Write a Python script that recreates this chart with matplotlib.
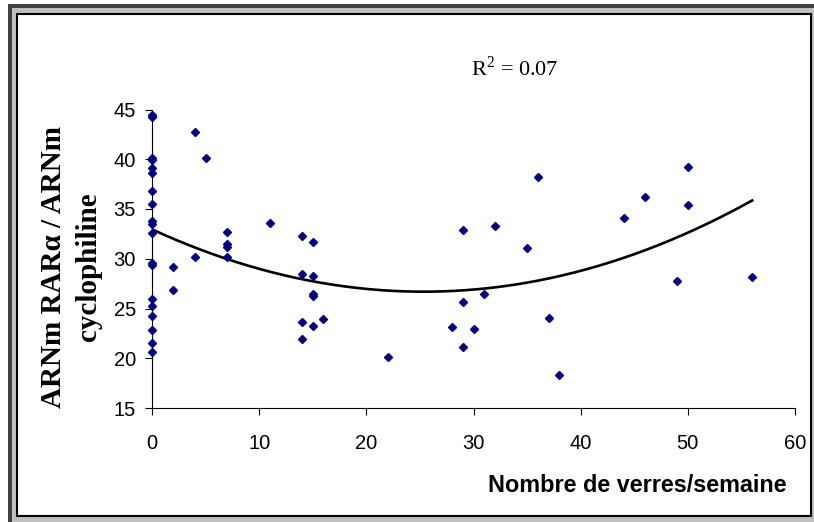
import numpy as np
import matplotlib
matplotlib.use("Agg")
import matplotlib.pyplot as plt
from matplotlib.patches import Rectangle
from matplotlib.transforms import Affine2D

# Consumption (glasses per week) and RARalpha / cyclophilin mRNA ratio
verres = [0] * 19 + [2, 2, 4, 4, 5, 7, 7, 7, 7, 11,
                     14, 14, 14, 14, 15, 15, 15, 15, 15, 16, 22, 28,
                     29, 29, 29, 30, 31, 32, 35, 36, 37, 38, 44, 46, 49,
                     50, 50, 56]
ratio = [44.45, 44.2, 40.1, 39.9, 39.15, 38.6, 36.84, 35.5, 33.8, 33.5,
         32.56, 29.55, 29.4, 26.0, 25.3, 24.2, 22.86, 21.5, 20.66,
         29.2, 26.9, 42.7, 30.15, 40.15, 32.7, 31.45, 31.2, 30.15, 33.6,
         32.3, 28.5, 23.6, 21.9, 31.7, 28.27, 26.5, 26.3, 23.27, 23.94,
         20.1, 23.17, 32.9, 25.62, 21.1, 22.9, 26.43, 33.26, 31.1, 38.25,
         24.0, 18.3, 34.05, 36.24, 27.8, 39.25, 35.43, 28.13]

x_ticks = [0, 10, 20, 30, 40, 50, 60]
y_ticks = [15, 20, 25, 30, 35, 40, 45]
r2_label = "R$^{\\mathrm{2}}$ = 0.07"

plt.rcParams["mathtext.fontset"] = "custom"
plt.rcParams["mathtext.rm"] = "Liberation Serif"

W, H = 814, 522
fig = plt.figure(figsize=(W / 100, H / 100), dpi=100, facecolor="white")

# pixel coordinates (origin top-left) for the chart frame
px = Affine2D().scale(1 / W, -1 / H).translate(0, 1) + fig.transFigure
fig.patches.append(Rectangle((8, 4), W, H, transform=px, facecolor="#404040",
                             edgecolor="none", zorder=-3))
fig.patches.append(Rectangle((12, 8), W, H, transform=px, facecolor="#c0c0c0",
                             edgecolor="none", zorder=-2))
fig.patches.append(Rectangle((17, 14), 794, 502, transform=px, facecolor="white",
                             edgecolor="black", linewidth=1.5, zorder=-1))

left, right, top, bottom = 152, 795, 109.5, 408
ax = fig.add_axes([left / W, 1 - bottom / H, (right - left) / W, (bottom - top) / H])
ax.set_zorder(2)
ax.set_facecolor("none")

x = np.array(verres, dtype=float)
y = np.array(ratio, dtype=float)
ax.plot(x, y, linestyle="none", marker="D", markersize=4.0,
        color="#000080", zorder=3, clip_on=False)

coef = np.polyfit(x, y, 2)
xs = np.linspace(0, x.max(), 200)
ax.plot(xs, np.polyval(coef, xs), color="black", linewidth=1.9, zorder=2)

ax.set_xlim(0, 60)
ax.set_ylim(15, 45)
ax.set_xticks(x_ticks)
ax.set_yticks(y_ticks)
for s in ("top", "right"):
    ax.spines[s].set_visible(False)
for s in ("left", "bottom"):
    ax.spines[s].set_linewidth(0.8)
ax.tick_params(axis="both", direction="out", length=5, width=0.8,
               labelsize=14.5, colors="black")
ax.tick_params(axis="x", pad=14)
ax.tick_params(axis="y", pad=6.5)
for lab in ax.get_xticklabels() + ax.get_yticklabels():
    lab.set_family("Liberation Sans")

fig.text(71 / W, 1 - 267 / H, "ARNm RAR\u03b1 / ARNm\ncyclophiline",
         rotation=90, ha="center", va="center", multialignment="center",
         family="Liberation Serif", fontweight="bold", fontsize=21,
         linespacing=1.35)
fig.text(637.5 / W, 1 - 485 / H, "Nombre de verres/semaine",
         ha="center", va="center", family="Liberation Sans",
         fontweight="bold", fontsize=16.8)
fig.text(515 / W, 1 - 68 / H, r2_label, ha="center", va="center",
         family="Liberation Serif", fontsize=16)

fig.savefig("out.png", dpi=100)
